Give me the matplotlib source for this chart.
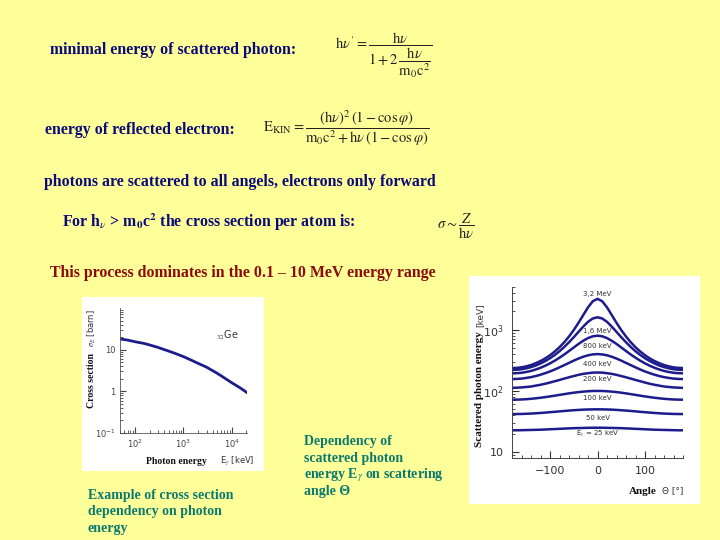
import numpy as np
import matplotlib
matplotlib.use("Agg")
import matplotlib.pyplot as plt
from matplotlib.patches import Rectangle
from matplotlib.ticker import MultipleLocator, LogLocator, NullFormatter

plt.rcParams['mathtext.fontset'] = 'stix'

# cross section of Ge vs photon energy (left panel)
photon_energy_kev = [50, 70, 100, 150, 200, 300, 500, 700, 1000, 1500, 2000,
                     3000, 5000, 7000, 10000, 15000, 20000]
cross_section_barn = [18, 17, 15.5, 14.2, 13, 11.3, 9.2, 8, 6.8, 5.5, 4.7,
                      3.8, 2.7, 2.1, 1.6, 1.2, 0.95]

# scattered photon energy vs angle (right panel)
angle_deg = list(range(-180, 181, 10))
scattered = {
    "3,2 MeV": [237, 238, 243, 252, 265, 284, 308, 340, 383, 441, 518, 625, 775, 989, 1298, 1740, 2323, 2922,
                3200, 2922, 2323, 1740, 1298, 989, 775, 625, 518, 441, 383, 340, 308, 284, 265, 252, 243, 238, 237],
    "1,6 MeV": [220, 222, 226, 234, 245, 260, 281, 308, 342, 387, 446, 523, 624, 755, 923, 1127, 1346, 1527,
                1600, 1527, 1346, 1127, 923, 755, 624, 523, 446, 387, 342, 308, 281, 260, 245, 234, 226, 222, 220],
    "800 keV": [194, 195, 198, 204, 212, 224, 239, 258, 282, 312, 349, 394, 449, 513, 586, 661, 731, 781,
                800, 781, 731, 661, 586, 513, 449, 394, 349, 312, 282, 258, 239, 224, 212, 204, 198, 195, 194],
    "400 keV": [156, 157, 159, 163, 168, 175, 184, 195, 208, 224, 243, 264, 287, 313, 338, 362, 382, 395,
                400, 395, 382, 362, 338, 313, 287, 264, 243, 224, 208, 195, 184, 175, 168, 163, 159, 157, 156],
    "200 keV": [112, 113, 114, 116, 118, 122, 126, 131, 137, 144, 151, 159, 167, 175, 183, 190, 195, 199,
                200, 199, 195, 190, 183, 175, 167, 159, 151, 144, 137, 131, 126, 122, 118, 116, 114, 113, 112],
    "100 keV": [71.9, 72.0, 72.5, 73.2, 74.3, 75.7, 77.3, 79.2, 81.3, 83.6, 86.1, 88.6, 91.1, 93.5, 95.6, 97.4, 98.8, 99.7,
                100, 99.7, 98.8, 97.4, 95.6, 93.5, 91.1, 88.6, 86.1, 83.6, 81.3, 79.2, 77.3, 75.7, 74.3, 73.2, 72.5, 72.0, 71.9],
    "50 keV": [41.8, 41.9, 42.0, 42.3, 42.6, 43.1, 43.6, 44.2, 44.9, 45.5, 46.3, 47.0, 47.7, 48.3, 48.9, 49.4, 49.7, 49.9,
               50, 49.9, 49.7, 49.4, 48.9, 48.3, 47.7, 47.0, 46.3, 45.5, 44.9, 44.2, 43.6, 43.1, 42.6, 42.3, 42.0, 41.9, 41.8],
    r"E$_\gamma$ = 25 keV": [22.7, 22.7, 22.8, 22.9, 23.0, 23.1, 23.2, 23.4, 23.6, 23.8, 24.0, 24.2, 24.4, 24.6, 24.7, 24.8, 24.9, 25.0,
                             25.0, 25.0, 24.9, 24.8, 24.7, 24.6, 24.4, 24.2, 24.0, 23.8, 23.6, 23.4, 23.2, 23.1, 23.0, 22.9, 22.8, 22.7, 22.7],
}
curve_label_y = [3830, 950, 541, 275, 156, 76, 36, 19.7]

left_caption = ["Example of cross section", "dependency on photon", "energy"]
right_caption = ["Dependency of", "scattered photon", r"energy E$_\gamma$ on scattering", "angle \u0398"]

BG = '#FFFF99'
NAVY = '#0a0a78'
DARKRED = '#8b0a0a'
TEAL = '#0a7a6e'
LINE = '#1c1c8c'
SERIF = 'Liberation Serif'

W, H = 720, 540


def px(x, y):
    return x / W, 1 - y / H


def ptext(x, y, s, **kw):
    fx, fy = px(x, y)
    return fig.text(fx, fy, s, **kw)


def panel(x0, y0, x1, y1):
    fx0, fy1 = px(x0, y1)
    r = Rectangle((fx0, fy1), (x1 - x0) / W, (y1 - y0) / H, transform=fig.transFigure,
                  facecolor='white', edgecolor='none', zorder=-10)
    fig.patches.append(r)


def axes_px(x0, y0, x1, y1):
    fx0, fy1 = px(x0, y1)
    return fig.add_axes([fx0, fy1, (x1 - x0) / W, (y1 - y0) / H])


fig = plt.figure(figsize=(7.2, 5.4), dpi=100, facecolor=BG)

# header texts
head = dict(family=SERIF, weight='bold', color=NAVY, fontsize=11.4, va='center', ha='left')
ptext(50, 50, "minimal energy of scattered photon:", **head)
ptext(45, 130, "energy of reflected electron:", **head)
ptext(44, 182, "photons are scattered to all angels, electrons only forward", **head)
ptext(62, 222, r"For h$_{\nu}$ > m$_\mathbf{0}$c$^\mathbf{2}$ the cross section per atom is:", **head)
ptext(50, 273, "This process dominates in the 0.1 \u2013 10 MeV energy range",
      **{**head, 'color': DARKRED})

# formulas
fml = dict(color='#222222', fontsize=10.5, va='center', ha='center')
ptext(384, 55, r"$\mathrm{h}\nu' = \dfrac{\mathrm{h}\nu}{1+2\,\dfrac{\mathrm{h}\nu}{\mathrm{m_0c^2}}}$", **fml)
ptext(346, 128, r"$\mathrm{E_{KIN}} = \dfrac{(\mathrm{h}\nu)^2\,(1-\cos\varphi)}"
                r"{\mathrm{m_0c^2}+\mathrm{h}\nu\,(1-\cos\varphi)}$", **fml)
ptext(456, 226, r"$\sigma \sim \dfrac{Z}{\mathrm{h}\nu}$", **fml)

# captions, one line at a time so spacing stays even
cap = dict(family=SERIF, weight='bold', color=TEAL, fontsize=10, va='baseline', ha='left')
for i, line in enumerate(left_caption):
    ptext(88, 499 + i * 16.5, line, **cap)
for i, line in enumerate(right_caption):
    ptext(304, 445 + i * 16.7, line, **cap)

# white panels behind the plots
panel(82, 297, 264, 471)
panel(469, 276, 700, 504)

# left plot: cross section vs energy
ax1 = axes_px(120, 308, 247, 433)
ax1.set_facecolor('white')
ax1.plot(photon_energy_kev, cross_section_barn, color=LINE, lw=2)
ax1.set_xscale('log')
ax1.set_yscale('log')
ax1.set_xlim(49, 20500)
ax1.set_ylim(0.1, 100)
ax1.set_yticks([0.1, 1, 10])
ax1.set_yticklabels([r"$\mathdefault{10^{-1}}$", "1", "10"])
ax1.set_xticks([100, 1000, 10000])
ax1.set_xticklabels([r"$\mathdefault{10^{2}}$", r"$\mathdefault{10^{3}}$", r"$\mathdefault{10^{4}}$"])
ax1.xaxis.set_minor_locator(LogLocator(subs=np.arange(2, 10)))
ax1.yaxis.set_minor_locator(LogLocator(subs=np.arange(2, 10)))
ax1.xaxis.set_minor_formatter(NullFormatter())
ax1.yaxis.set_minor_formatter(NullFormatter())
ax1.tick_params(which='both', direction='in', labelsize=6, colors='#444444', pad=3)
ax1.tick_params(which='major', length=4)
ax1.tick_params(which='minor', length=2)
for s in ['top', 'right']:
    ax1.spines[s].set_visible(False)
for s in ['left', 'bottom']:
    ax1.spines[s].set_color('#555555')
    ax1.spines[s].set_linewidth(0.6)
ax1.text(8000, 22, r"$_{32}$Ge", fontsize=7, color='#333333', ha='center', va='center')

ptext(92, 380, "Cross section", family=SERIF, weight='bold', fontsize=7, rotation=90,
      ha='center', va='center', color='#111111')
ptext(92, 328, r"$\sigma_E$ [barn]", fontsize=6, rotation=90, ha='center', va='center', color='#333333')
ptext(176, 461, "Photon energy", family=SERIF, weight='bold', fontsize=7, ha='center', va='center',
      color='#111111')
ptext(237, 461, r"E$_\gamma$ [keV]", fontsize=6, ha='center', va='center', color='#333333')

# right plot: scattered photon energy vs angle
ax2 = axes_px(512, 287, 683, 458)
ax2.set_facecolor('white')
for (name, vals), ly in zip(scattered.items(), curve_label_y):
    ax2.plot(angle_deg, vals, color=LINE, lw=1.8)
    ax2.text(0, ly, name, fontsize=5, color='#333333', ha='center', va='center')
ax2.set_yscale('log')
ax2.set_xlim(-180, 180)
ax2.set_ylim(8, 5000)
ax2.set_xticks([-100, 0, 100])
ax2.set_xticklabels(["\u2212100", "0", "100"])
ax2.xaxis.set_minor_locator(MultipleLocator(20))
ax2.set_yticks([10, 100, 1000])
ax2.set_yticklabels(["10", r"$\mathdefault{10^{2}}$", r"$\mathdefault{10^{3}}$"])
ax2.yaxis.set_minor_locator(LogLocator(subs=np.arange(2, 10)))
ax2.yaxis.set_minor_formatter(NullFormatter())
ax2.tick_params(which='both', direction='in', labelsize=8, colors='#333333', pad=6)
ax2.tick_params(which='major', length=5)
ax2.tick_params(which='minor', length=2.5)
for s in ['top', 'right']:
    ax2.spines[s].set_visible(False)
for s in ['left', 'bottom']:
    ax2.spines[s].set_color('#444444')
    ax2.spines[s].set_linewidth(0.7)

ptext(480, 389, "Scattered photon energy", family=SERIF, weight='bold', fontsize=8, rotation=90,
      ha='center', va='center', color='#111111')
ptext(480, 315, "[keV]", fontsize=6.5, rotation=90, ha='center', va='center', color='#333333')
ptext(643, 491, "Angle", family=SERIF, weight='bold', fontsize=8, ha='center', va='center', color='#111111')
ptext(673, 491, "\u0398 [\u00b0]", fontsize=6.5, ha='center', va='center', color='#333333')

fig.savefig("out.png", dpi=100, facecolor=BG)
